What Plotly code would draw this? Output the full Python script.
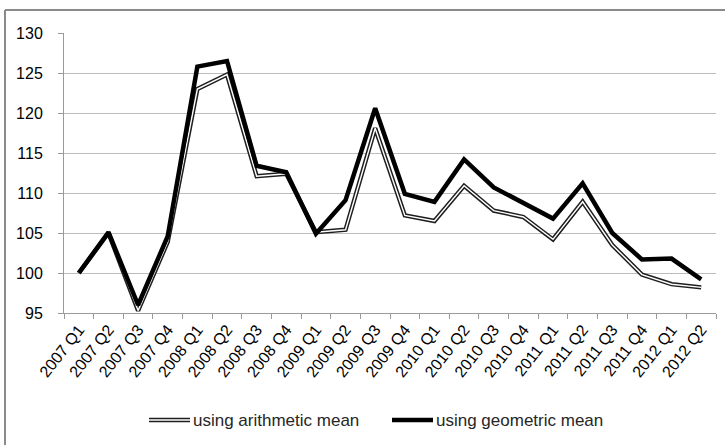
import plotly.graph_objects as go

quarters = ["2007 Q1", "2007 Q2", "2007 Q3", "2007 Q4",
            "2008 Q1", "2008 Q2", "2008 Q3", "2008 Q4",
            "2009 Q1", "2009 Q2", "2009 Q3", "2009 Q4",
            "2010 Q1", "2010 Q2", "2010 Q3", "2010 Q4",
            "2011 Q1", "2011 Q2", "2011 Q3", "2011 Q4",
            "2012 Q1", "2012 Q2"]

arithmetic = [100.0, 105.0, 95.3, 103.9,
              123.0, 124.8, 112.1, 112.4,
              105.1, 105.4, 118.1, 107.2,
              106.5, 110.9, 107.8, 107.0,
              104.2, 108.9, 103.5, 99.8,
              98.6, 98.2]

geometric = [100.0, 105.1, 96.0, 104.6,
             125.8, 126.5, 113.4, 112.6,
             104.9, 109.1, 120.6, 109.9,
             108.9, 114.2, 110.7, 108.7,
             106.8, 111.2, 105.0, 101.7,
             101.8, 99.2]

y_ticks = [95, 100, 105, 110, 115, 120, 125, 130]

series_names = ["using arithmetic mean", "using geometric mean"]

FONT = "Liberation Sans, Arial, sans-serif"
W, H = 725, 445
L, R, T, B = 64, 716, 33, 313


def px(x):
    return (x - L) / (R - L)


def py(y):
    return (B - y) / (B - T)


fig = go.Figure()
fig.add_trace(go.Scatter(x=quarters, y=arithmetic, mode="lines",
                         line=dict(color="#1e1e1e", width=4.4),
                         showlegend=False, hoverinfo="skip"))
fig.add_trace(go.Scatter(x=quarters, y=arithmetic, mode="lines",
                         name=series_names[0],
                         line=dict(color="#ffffff", width=1.4),
                         showlegend=False))
fig.add_trace(go.Scatter(x=quarters, y=geometric, mode="lines",
                         name=series_names[1],
                         line=dict(color="#000000", width=4.5),
                         showlegend=False))

shapes = []
# chart border (left and top visible)
shapes.append(dict(type="line", xref="paper", yref="paper",
                   x0=px(5), x1=px(5), y0=py(10), y1=py(460),
                   line=dict(color="#8a8a8a", width=2)))
shapes.append(dict(type="line", xref="paper", yref="paper",
                   x0=px(5), x1=px(740), y0=py(10), y1=py(10),
                   line=dict(color="#8a8a8a", width=2)))
# legend symbols
ly = py(420)
shapes.append(dict(type="line", xref="paper", yref="paper",
                   x0=px(149), x1=px(190), y0=ly, y1=ly,
                   line=dict(color="#1e1e1e", width=4.4)))
shapes.append(dict(type="line", xref="paper", yref="paper",
                   x0=px(149), x1=px(190), y0=ly, y1=ly,
                   line=dict(color="#ffffff", width=1.4)))
shapes.append(dict(type="line", xref="paper", yref="paper",
                   x0=px(392), x1=px(433), y0=ly, y1=ly,
                   line=dict(color="#000000", width=4.5)))

annotations = [
    dict(text=series_names[0], xref="paper", yref="paper", x=px(191), y=ly,
         xanchor="left", yanchor="middle", showarrow=False,
         font=dict(family=FONT, size=17, color="#262626")),
    dict(text=series_names[1], xref="paper", yref="paper", x=px(434), y=ly,
         xanchor="left", yanchor="middle", showarrow=False,
         font=dict(family=FONT, size=17, color="#262626")),
]

fig.update_layout(
    width=W, height=H,
    margin=dict(l=L, r=W - R, t=T, b=H - B, pad=0),
    paper_bgcolor="white", plot_bgcolor="white",
    font=dict(family=FONT, color="#000000"),
    shapes=shapes, annotations=annotations,
    showlegend=False,
)
fig.update_xaxes(
    type="category", categoryorder="array", categoryarray=quarters,
    range=[-0.5, len(quarters) - 0.5],
    tickangle=-52, tickfont=dict(size=16, family=FONT, color="#000000"),
    ticks="outside", tickson="boundaries", ticklen=5, tickcolor="#9a9a9a",
    showline=True, linecolor="#9a9a9a", linewidth=1,
    showgrid=False, zeroline=False,
)
fig.update_yaxes(
    range=[95, 130], tickvals=y_ticks,
    tickfont=dict(size=16, family=FONT, color="#000000"),
    ticks="outside", ticklen=5, tickcolor="#9a9a9a",
    showline=True, linecolor="#9a9a9a", linewidth=1,
    showgrid=True, gridcolor="#bdbdbd", gridwidth=1,
    zeroline=False, ticklabelstandoff=12,
)

fig.write_html(
    "out.html",
    config={"displayModeBar": False},
    post_script="document.body.style.margin='0';"
                "document.body.style.overflow='hidden';",
)
